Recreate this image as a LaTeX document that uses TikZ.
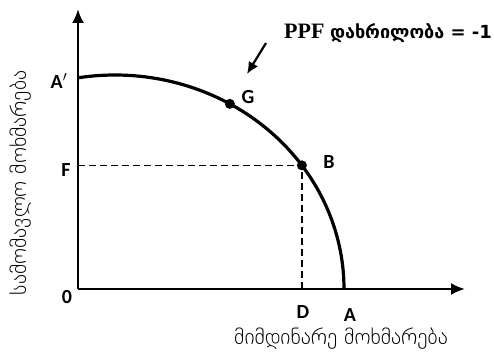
\documentclass[tikz,border=0pt]{standalone}
\usepackage{fontspec}
\setmainfont{Liberation Serif}
\newfontfamily\geo{DejaVu Sans}
\newfontfamily\geothin{DejaVu Sans ExtraLight}
\newfontfamily\lbl{Carlito}
\usetikzlibrary{arrows.meta, positioning}

\begin{document}
\begin{tikzpicture}[x=1pt, y=1pt, >={Latex[length=14pt, width=12pt]},
    dot/.style={circle, fill, inner sep=0pt, minimum size=10pt},
    lab/.style={font=\lbl\bfseries\fontsize{20}{22}\selectfont, inner sep=1pt},
    axlab/.style={font=\geothin\fontsize{21.5}{24}\selectfont, inner sep=0pt}]
    \useasboundingbox (0,0) rectangle (494,356);
    % 1. Hệ trục
    \coordinate (O) at (78,67);
    \coordinate (xend) at (465,67);
    \coordinate (yend) at (78,347);
    \draw[line width=2.4pt, ->] (O) -- (xend);
    \draw[line width=2.4pt, ->] (O) -- (yend);
    \node[axlab] (xlab) at (341,17) {მიმდინარე მოხმარება};
    \node[axlab, rotate=90] (ylab) at (21,173) {სამომავლო მოხმარება};

    % 2. Đường PPF
    \coordinate (C) at (115,67);
    \path (C) ++(99.3:229 and 214) coordinate (Ap);
    \path (C) ++(59.9:229 and 214) coordinate (G);
    \path (C) ++(35.3:229 and 214) coordinate (B);
    \coordinate (A) at (344,67);
    \draw[line width=3.2pt] (Ap) arc[start angle=99.3, end angle=0, x radius=229, y radius=214];

    % 3. Điểm B, G và đường gióng
    \coordinate (F) at (O |- B);
    \coordinate (D) at (B |- O);
    \draw[line width=1.4pt, dash pattern=on 7pt off 4pt] (F) -- (B) -- (D);
    \node[dot] (Gdot) at (G) {};
    \node[dot] (Bdot) at (B) {};

    % 4. Nhãn
    \node[lab] (lAp) at (59,275) {A$^{\prime}$};
    \node[lab] (lF) at (66,186) {F};
    \node[lab] (lO) at (67,59) {0};
    \node[lab] (lD) at (303,44) {D};
    \node[lab] (lA) at (350,41) {A};
    \node[lab] (lG) at (248,259) {G};
    \node[lab] (lB) at (329,194) {B};

    % 5. Độ dốc
    \node[anchor=west, inner sep=0pt] (slope) at (284,323)
        {\fontsize{22}{24}\selectfont\bfseries PPF {\geo\fontsize{18}{20}\selectfont დახრილობა = -1}};
    \coordinate (tail) at (266,313);
    \draw[line width=2.2pt, ->, >={Latex[length=12pt, width=11pt]}] (tail) -- (247,282);
\end{tikzpicture}
\end{document}
